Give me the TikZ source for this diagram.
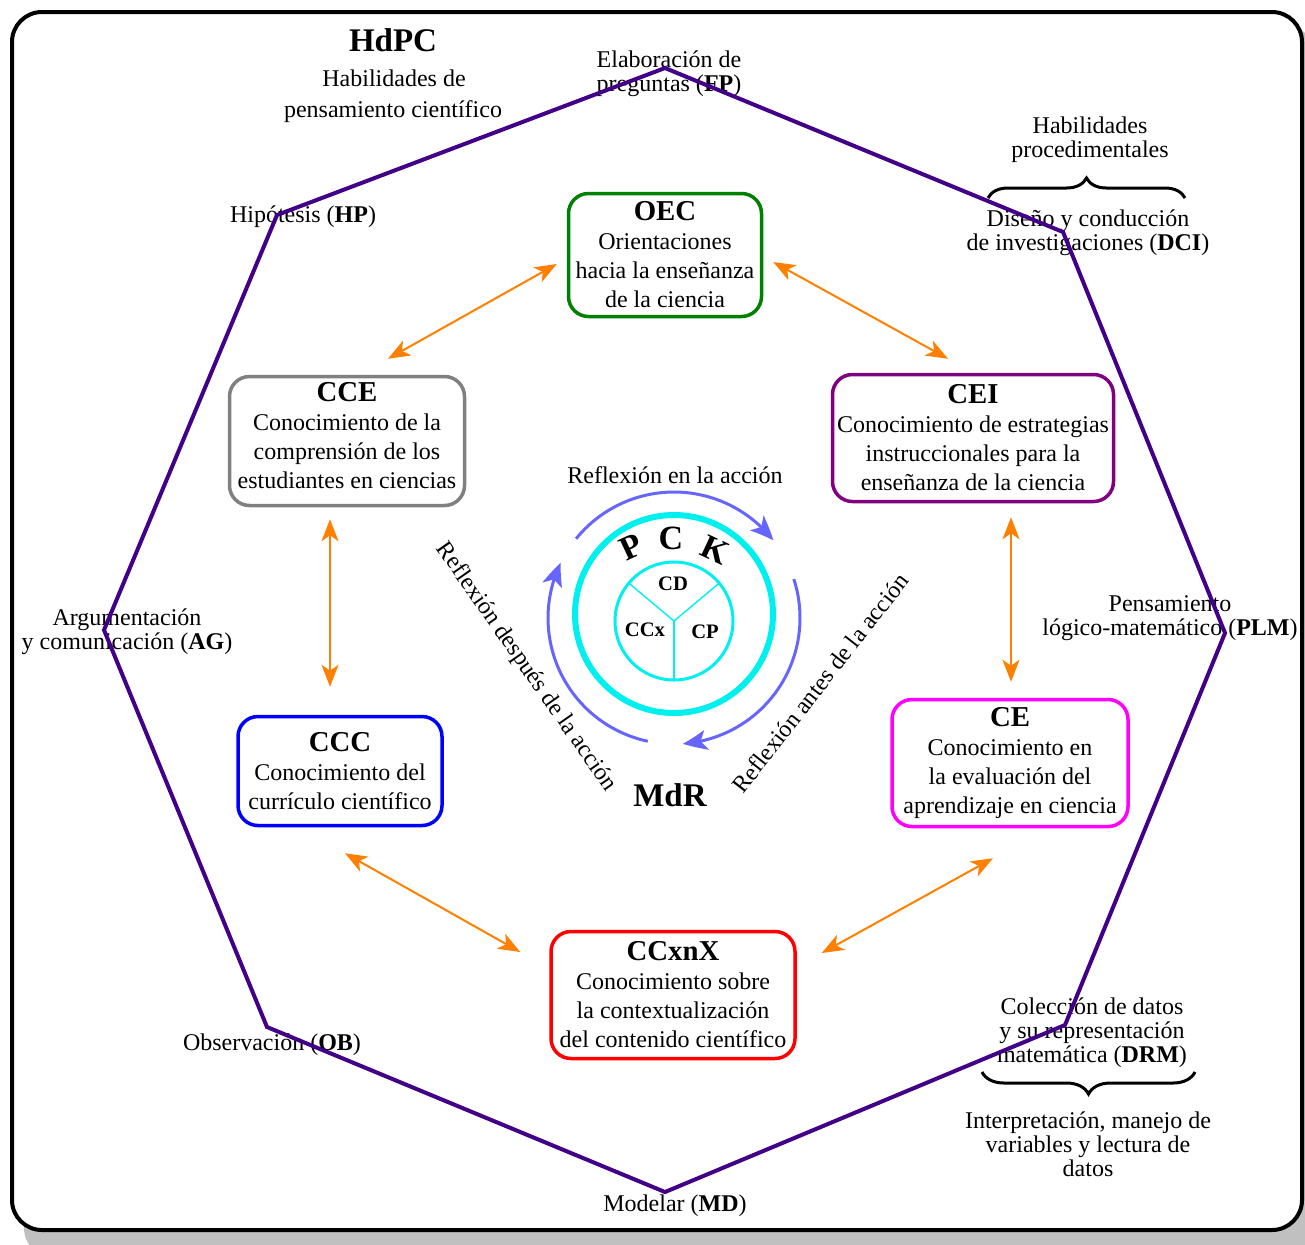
\documentclass[tikz,border=0pt]{standalone}
\usepackage{fontspec}
\setmainfont{Liberation Serif}
\usetikzlibrary{arrows.meta,bending,calc,decorations.pathreplacing}

\definecolor{octline}{RGB}{66,0,137}
\definecolor{linkorange}{RGB}{255,128,0}
\definecolor{cyclecol}{RGB}{102,102,255}
\definecolor{pckcyan}{RGB}{0,240,240}
\definecolor{shadowgray}{RGB}{192,192,192}

\begin{document}
\begin{tikzpicture}[x=0.5pt,y=0.5pt,
  box/.style={draw, rounded corners=10pt, line width=1.75pt, fill=white,
    align=center, inner sep=2pt, font=\fontsize{12}{14.5}\selectfont},
  lbl/.style={align=center, inner sep=0pt, font=\fontsize{12}{12}\selectfont},
  txt/.style={inner sep=0pt, font=\fontsize{12}{14.5}\selectfont},
  link/.style={linkorange, line width=1pt,
    {Stealth[length=11pt,width=8.5pt,inset=3pt]}-{Stealth[length=11pt,width=8.5pt,inset=3pt]}},
  cyclearc/.style={cyclecol, line width=1.5pt,
    -{Stealth[length=12pt,width=10pt,inset=3pt,bend]}},
  bracestyle/.style={line width=1.5pt, decorate}
]
\useasboundingbox (0,0) rectangle (1305,-1244);

% frame with drop shadow
\fill[shadowgray, rounded corners=15pt] (24,-26) rectangle (1316,-1258);
\draw[line width=2pt, fill=white, rounded corners=15pt] (12,-12) rectangle (1302,-1230);

% title of the skills octagon
\node[inner sep=0pt, font=\fontsize{16.5}{16.5}\selectfont\bfseries] (hdpc) at (393,-40) {HdPC};
\node[txt] (hdpc1) at (394,-78) {Habilidades de};
\node[txt] (hdpc2) at (393,-112) {pensamiento científico};

% labels at the octagon vertices
\node[lbl] (fp) at (669,-74) {Elaboración de\\preguntas (\textbf{FP})};
\node[lbl] (hp) at (303,-217) {Hipótesis (\textbf{HP})};
\node[lbl] (ag) at (127,-632) {Argumentación\\y comunicación (\textbf{AG})};
\node[lbl] (ob) at (272,-1045) {Observación (\textbf{OB})};
\node[lbl] (md) at (675,-1206) {Modelar (\textbf{MD})};
\node[lbl] (drm) at (1092,-1033) {Colección de datos\\y su representación\\matemática (\textbf{DRM})};
\node[lbl] (plm) at (1170,-618) {Pensamiento\\lógico-matemático (\textbf{PLM})};
\node[lbl] (dci) at (1088,-233) {Diseño y conducción\\de investigaciones (\textbf{DCI})};
\node[lbl] (hproc) at (1090,-140) {Habilidades\\procedimentales};
\node[lbl] (interp) at (1088,-1144) {Interpretación, manejo de\\variables y lectura de\\datos};

% braces grouping the procedural skills
\draw[bracestyle, decoration={brace, amplitude=10pt}] (988,-198) -- (1185,-198);
\draw[bracestyle, decoration={brace, amplitude=11pt}] (1195,-1072) -- (982,-1072);

% the octagon of scientific thinking skills
\coordinate (v1) at (665,-68);
\coordinate (v2) at (1063,-232);
\coordinate (v3) at (1225,-633);
\coordinate (v4) at (1065,-1025);
\coordinate (v5) at (665,-1192);
\coordinate (v6) at (267,-1027);
\coordinate (v7) at (104,-630);
\coordinate (v8) at (277,-215);
\draw[octline, line width=2pt, line join=miter]
  (v1) -- (v2) -- (v3) -- (v4) -- (v5) -- (v6) -- (v7) -- (v8) -- cycle;

% knowledge boxes
\node[box, draw={rgb,255:red,0;green,128;blue,0}, minimum width=96.5pt, minimum height=61.5pt] (oec) at (665,-255)
  {{\fontsize{14.4}{14.5}\selectfont\bfseries OEC}\\Orientaciones\\hacia la enseñanza\\de la ciencia};
\node[box, draw={rgb,255:red,128;green,128;blue,128}, minimum width=117.5pt, minimum height=64.5pt, text depth=6pt] (cce) at (347,-441)
  {{\fontsize{14.4}{14.5}\selectfont\bfseries CCE}\\Conocimiento de la\\comprensión de los\\estudiantes en ciencias};
\node[box, draw={rgb,255:red,128;green,0;blue,128}, minimum width=140.5pt, minimum height=63.5pt] (cei) at (973,-438)
  {{\fontsize{14.4}{14.5}\selectfont\bfseries CEI}\\Conocimiento de estrategias\\instruccionales para la\\enseñanza de la ciencia};
\node[box, draw={rgb,255:red,0;green,0;blue,255}, minimum width=102pt, minimum height=54.5pt] (ccc) at (340,-771)
  {{\fontsize{14.4}{14.5}\selectfont\bfseries CCC}\\Conocimiento del\\currículo científico};
\node[box, draw={rgb,255:red,255;green,0;blue,255}, minimum width=118pt, minimum height=63.5pt] (ce) at (1010,-763)
  {{\fontsize{14.4}{14.5}\selectfont\bfseries CE}\\Conocimiento en\\la evaluación del\\aprendizaje en ciencia};
\node[box, draw={rgb,255:red,255;green,0;blue,0}, minimum width=122pt, minimum height=63.5pt] (ccxnx) at (673,-995)
  {{\fontsize{14.4}{14.5}\selectfont\bfseries CCxnX}\\Conocimiento sobre\\la contextualización\\del contenido científico};

% links between the boxes
\draw[link] ([shift={(-10,-9)}]oec.west) -- ([shift={(41,16)}]cce.north);
\draw[link] ([shift={(10,-7)}]oec.east) -- ([shift={(-25,14)}]cei.north);
\draw[link] ([shift={(-17,-12)}]cce.south) -- ([shift={(-10,28)}]ccc.north);
\draw[link] ([shift={(38,-14)}]cei.south) -- ([shift={(1,16)}]ce.north);
\draw[link] ([shift={(5,-26)}]ccc.south) -- ([shift={(-29,43)}]ccxnx.west);
\draw[link] ([shift={(-17,-30)}]ce.south) -- ([shift={(25,42)}]ccxnx.east);

% PCK core
\coordinate (pckc) at (674,-614);
\coordinate (innerc) at (674,-621);
\draw[pckcyan, line width=3pt] (pckc) circle[radius=99];
\draw[pckcyan, line width=1.5pt] (innerc) circle[radius=59];
\draw[pckcyan, line width=0.7pt] (innerc) -- ++(140:59);
\draw[pckcyan, line width=0.7pt] (innerc) -- ++(40:59);
\draw[pckcyan, line width=0.7pt] (innerc) -- ++(270:59);
\node[inner sep=0pt, font=\fontsize{10.3}{10.3}\selectfont\bfseries] (cd) at (673,-584) {CD};
\node[inner sep=0pt, font=\fontsize{10.3}{10.3}\selectfont\bfseries] (ccx) at (645,-630) {CCx};
\node[inner sep=0pt, font=\fontsize{10.3}{10.3}\selectfont\bfseries] (cp) at (705,-632) {CP};
\node[inner sep=0pt, rotate=25, font=\fontsize{17}{17}\selectfont\bfseries] (pp) at (631,-547) {P};
\node[inner sep=0pt, font=\fontsize{17}{17}\selectfont\bfseries] (pc) at (671,-538) {C};
\node[inner sep=0pt, rotate=-25, font=\fontsize{17}{17}\selectfont\bfseries] (pk) at (715,-550) {K};

% cycle of reflection
\coordinate (cyc) at (674,-618);
\draw[cyclearc] ($(cyc)+(141:126)$) arc[start angle=141, end angle=38, radius=126];
\draw[cyclearc] ($(cyc)+(18:126)$) arc[start angle=18, end angle=-86, radius=126];
\draw[cyclearc] ($(cyc)+(258:126)$) arc[start angle=258, end angle=154, radius=126];

\node[txt] (ren) at (675,-475) {Reflexión en la acción};
\node[txt, rotate=-55] (rdes) at (526,-667) {Reflexión después de la acción};
\node[txt, rotate=52] (rant) at (820,-683) {Reflexión antes de la acción};
\node[inner sep=0pt, font=\fontsize{16.5}{16.5}\selectfont\bfseries] (mdr) at (670,-795) {MdR};
\end{tikzpicture}
\end{document}
